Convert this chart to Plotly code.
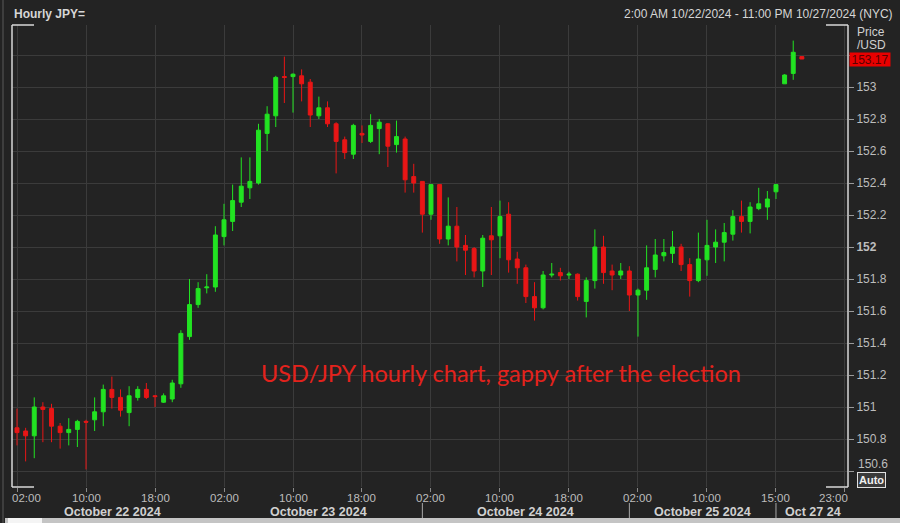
import plotly.graph_objects as go

# ---------------- data ----------------
opens = [150.87, 150.85, 150.82, 151.00, 150.99, 150.88, 150.84, 150.86, 150.91, 150.92,
         150.97, 151.11, 151.06, 150.965, 151.06, 151.11, 151.07, 151.03, 151.05, 151.145,
         151.44, 151.64, 151.745, 151.75, 152.065, 152.16, 152.28, 152.37, 152.40, 152.71,
         152.82, 153.065, 153.065, 153.07, 153.03, 152.82, 152.87, 152.77, 152.67, 152.58,
         152.71, 152.66, 152.74, 152.77, 152.64, 152.675, 152.44, 152.41, 152.205, 152.39,
         152.05, 152.13, 152.01, 151.99, 151.85, 152.07, 152.07, 152.205, 151.925, 151.87,
         151.69, 151.62, 151.825, 151.84, 151.825, 151.83, 151.66, 151.79, 152.00, 151.85,
         151.825, 151.85, 151.70, 151.73, 151.86, 151.945, 151.96, 152.00, 151.89, 151.79,
         151.92, 152.00, 152.03, 152.08, 152.19, 152.16, 152.24, 152.25, 152.345,
         153.02, 153.085, 153.19]
highs = [150.99, 150.87, 151.06, 151.03, 151.02, 150.90, 150.93, 150.92, 150.92, 151.06,
         151.14, 151.19, 151.11, 151.13, 151.13, 151.15, 151.075, 151.085, 151.17, 151.48,
         151.80, 151.78, 151.83, 152.13, 152.27, 152.39, 152.56, 152.56, 152.77, 152.88,
         153.07, 153.19, 153.085, 153.11, 153.05, 152.94, 152.91, 152.78, 152.69, 152.77,
         152.76, 152.83, 152.80, 152.775, 152.79, 152.69, 152.52, 152.41, 152.39, 152.39,
         152.31, 152.25, 152.075, 152.00, 152.075, 152.25, 152.29, 152.28, 151.97, 151.89,
         151.78, 151.85, 151.90, 151.87, 151.845, 151.835, 151.81, 152.11, 152.07, 151.89,
         151.90, 151.88, 151.74, 152.01, 152.05, 152.05, 152.10, 152.02, 151.93, 152.09,
         152.17, 152.11, 152.15, 152.23, 152.29, 152.28, 152.37, 152.35, 152.39,
         153.08, 153.29, 153.19]
lows = [150.76, 150.66, 150.68, 150.78, 150.78, 150.74, 150.76, 150.75, 150.61, 150.85,
        150.88, 150.99, 150.94, 150.88, 151.04, 151.05, 151.00, 151.025, 151.03, 151.12,
        151.42, 151.62, 151.71, 151.72, 152.01, 152.10, 152.25, 152.30, 152.39, 152.60,
        152.75, 152.90, 152.84, 152.91, 152.75, 152.80, 152.75, 152.46, 152.55, 152.55,
        152.65, 152.65, 152.58, 152.50, 152.59, 152.34, 152.34, 152.09, 152.17, 152.02,
        152.01, 151.91, 151.825, 151.81, 151.75, 151.825, 151.93, 151.84, 151.77, 151.65,
        151.54, 151.61, 151.81, 151.79, 151.80, 151.665, 151.56, 151.74, 151.77, 151.73,
        151.80, 151.60, 151.44, 151.67, 151.81, 151.91, 151.90, 151.85, 151.69, 151.78,
        151.82, 151.90, 151.91, 152.04, 152.09, 152.085, 152.23, 152.17, 152.30,
        153.02, 153.045, 153.175]
closes = [150.84, 150.82, 151.00, 150.985, 150.88, 150.84, 150.86, 150.91, 150.905, 150.97,
          151.11, 151.06, 150.98, 151.07, 151.11, 151.06, 151.065, 151.07, 151.15, 151.46,
          151.64, 151.74, 151.75, 152.075, 152.17, 152.29, 152.38, 152.41, 152.73, 152.83,
          153.06, 153.06, 153.08, 153.02, 152.825, 152.87, 152.77, 152.66, 152.59, 152.76,
          152.70, 152.76, 152.78, 152.63, 152.69, 152.42, 152.40, 152.205, 152.39, 152.05,
          152.13, 152.00, 151.98, 151.85, 152.055, 152.045, 152.19, 151.92, 151.87, 151.69,
          151.62, 151.825, 151.83, 151.82, 151.83, 151.69, 151.79, 152.00, 151.84, 151.825,
          151.85, 151.70, 151.73, 151.87, 151.95, 151.965, 152.00, 151.89, 151.79, 151.925,
          152.01, 152.03, 152.09, 152.19, 152.16, 152.25, 152.27, 152.30, 152.39,
          153.075, 153.217, 153.175]

x_tick_pos = [0, 8, 16, 24, 32, 40, 48, 56, 64, 72, 80, 88, 96]
x_tick_text = ["02:00", "10:00", "18:00", "02:00", "10:00", "18:00", "02:00",
               "10:00", "18:00", "02:00", "10:00", "15:00", "23:00"]
date_labels = ["October 22 2024", "October 23 2024", "October 24 2024",
               "October 25 2024", "Oct 27 24"]
date_label_pos = [11.1, 34.9, 58.9, 79.5, 92.3]
day_divider_pos = [47, 71, 88]
y_tick_vals = [150.6, 150.8, 151.0, 151.2, 151.4, 151.6, 151.8, 152.0,
               152.2, 152.4, 152.6, 152.8, 153.0, 153.2]
y_tick_text = ["150.6", "150.8", "151", "151.2", "151.4", "151.6", "151.8", "<b>152</b>",
               "152.2", "152.4", "152.6", "152.8", "153", ""]
last_price_label = "153.17"
title_left = "Hourly JPY="
title_right = "2:00 AM 10/22/2024 - 11:00 PM 10/27/2024 (NYC)"
note_text = "USD/JPY hourly chart, gappy after the election"

candle_pos = list(range(len(closes)))

# ---------------- figure ----------------
BG = "#232323"
GRID = "#3b3b3b"
TXT = "#bdbdbd"
GREEN = "#22e322"
RED = "#e81616"
FONT = "Liberation Sans, Arial, sans-serif"

X_RANGE = [-0.58, 96.35]
Y_RANGE = [150.5, 153.3875]

fig = go.Figure(go.Candlestick(
    x=candle_pos, open=opens, high=highs, low=lows, close=closes,
    increasing=dict(line=dict(color=GREEN, width=1), fillcolor=GREEN),
    decreasing=dict(line=dict(color=RED, width=1), fillcolor=RED),
    whiskerwidth=0, hoverinfo="skip", showlegend=False,
))

fig.update_layout(
    width=900, height=523,
    margin=dict(l=12, r=52, t=25, b=36),
    paper_bgcolor=BG, plot_bgcolor=BG,
    boxgap=0.35,
    font=dict(family=FONT, color=TXT, size=12),
    showlegend=False,
)
fig.update_xaxes(
    range=X_RANGE, rangeslider=dict(visible=False),
    tickvals=x_tick_pos, ticktext=[""] * len(x_tick_pos),
    ticks="outside", ticklen=4, tickcolor="#8a8a8a",
    showgrid=True, gridcolor=GRID, gridwidth=1,
    zeroline=False, showline=False, fixedrange=True,
)
fig.update_yaxes(
    range=Y_RANGE, side="right",
    tickvals=y_tick_vals, ticktext=[("" if i == 0 else t) for i, t in enumerate(y_tick_text)],
    ticks="outside", ticklen=5, tickcolor="#9a9a9a",
    tickfont=dict(family=FONT, size=12, color=TXT),
    showgrid=True, gridcolor=GRID, gridwidth=1,
    zeroline=False, showline=False, fixedrange=True,
)

def px_to_paper_x(px):
    return (px - 12) / 836.0

def px_to_paper_y(py):
    return (487 - py) / 462.0

def idx_to_paper_x(v):
    return (v - X_RANGE[0]) / (X_RANGE[1] - X_RANGE[0])

def note(**kw):
    base = dict(showarrow=False, yanchor="middle", xanchor="center")
    base.update(kw)
    return base

annotations = []
# time tick labels
for i, (pos, txt) in enumerate(zip(x_tick_pos, x_tick_text)):
    shift = 9 if i == 0 else (-11 if i == len(x_tick_pos) - 1 else 0)
    annotations.append(note(x=pos, y=px_to_paper_y(498), xref="x", yref="paper",
                            text=txt, xshift=shift,
                            font=dict(family=FONT, size=11.5, color=TXT)))
# date labels
for pos, txt in zip(date_label_pos, date_labels):
    annotations.append(note(x=pos, y=px_to_paper_y(512), xref="x", yref="paper",
                            text="<b>" + txt + "</b>",
                            font=dict(family=FONT, size=12.5, color="#d0d0d0")))
# lowest price label, lifted above the Auto box as in the reference
annotations.append(note(x=px_to_paper_x(856), y=px_to_paper_y(464), xref="paper", yref="paper",
                        xanchor="left", text=y_tick_text[0],
                        font=dict(family=FONT, size=12, color=TXT)))
# header
annotations.append(note(x=px_to_paper_x(12), y=px_to_paper_y(14), xref="paper", yref="paper",
                        xanchor="left", text="<b>" + title_left + "</b>",
                        font=dict(family=FONT, size=12, color="#d6d6d6")))
annotations.append(note(x=px_to_paper_x(895), y=px_to_paper_y(14), xref="paper", yref="paper",
                        xanchor="right", text=title_right,
                        font=dict(family=FONT, size=12, color="#d6d6d6")))
# axis title
annotations.append(note(x=px_to_paper_x(855), y=px_to_paper_y(32), xref="paper", yref="paper",
                        xanchor="left", text="Price",
                        font=dict(family=FONT, size=12, color="#d0d0d0")))
annotations.append(note(x=px_to_paper_x(855), y=px_to_paper_y(45), xref="paper", yref="paper",
                        xanchor="left", text="/USD",
                        font=dict(family=FONT, size=12, color="#d0d0d0")))
# last price box
annotations.append(note(x=px_to_paper_x(849), y=closes[-1], xref="paper", yref="y",
                        xanchor="left", text=last_price_label,
                        bgcolor="#e80000", borderpad=0, width=40, height=13,
                        font=dict(family=FONT, size=12, color="#5a0000")))
# Auto box
annotations.append(note(x=px_to_paper_x(872), y=px_to_paper_y(480), xref="paper", yref="paper",
                        text="<b>Auto</b>", bgcolor="#3a3a3a",
                        bordercolor="#e0e0e0", borderwidth=1, borderpad=1,
                        font=dict(family=FONT, size=11, color="#f0f0f0")))
# red note
annotations.append(note(x=px_to_paper_x(501), y=px_to_paper_y(373), xref="paper", yref="paper",
                        text=note_text,
                        font=dict(family="Lato, Open Sans, sans-serif", size=23.5, color="#e3221c")))
fig.update_layout(annotations=annotations)

shapes = []
FRAME = "#d8d8d8"
shapes.append(dict(type="line", xref="paper", yref="paper", x0=0, x1=0, y0=0, y1=1,
                   line=dict(color=FRAME, width=1.5)))
shapes.append(dict(type="line", xref="paper", yref="paper", x0=1, x1=1, y0=0, y1=1,
                   line=dict(color=FRAME, width=1.5)))
seg = 22 / 836.0
for y in (0, 1):
    shapes.append(dict(type="line", xref="paper", yref="paper", x0=0, x1=seg, y0=y, y1=y,
                       line=dict(color=FRAME, width=1.5)))
    shapes.append(dict(type="line", xref="paper", yref="paper", x0=1 - seg, x1=1, y0=y, y1=y,
                       line=dict(color=FRAME, width=1.5)))
for d in day_divider_pos:
    xp = idx_to_paper_x(d)
    shapes.append(dict(type="line", xref="paper", yref="paper", x0=xp, x1=xp,
                       y0=px_to_paper_y(503), y1=px_to_paper_y(523),
                       line=dict(color="#a8a8a8", width=1)))
shapes.append(dict(type="line", xref="paper", yref="paper",
                   x0=px_to_paper_x(3), x1=px_to_paper_x(3), y0=px_to_paper_y(0), y1=px_to_paper_y(523),
                   line=dict(color="#5a5a5a", width=1)))
shapes.append(dict(type="rect", xref="paper", yref="paper",
                   x0=px_to_paper_x(5), x1=px_to_paper_x(900), y0=px_to_paper_y(523), y1=px_to_paper_y(518),
                   fillcolor="#c4c4c4", line=dict(width=0)))
shapes.append(dict(type="rect", xref="paper", yref="paper",
                   x0=px_to_paper_x(8), x1=px_to_paper_x(42), y0=px_to_paper_y(523), y1=px_to_paper_y(518),
                   fillcolor="#f4f4f4", line=dict(width=0)))
fig.update_layout(shapes=shapes)

fig.write_html("out.html", config={"displayModeBar": False},
               post_script="document.body.style.margin='0px';document.body.style.overflow='hidden';")
